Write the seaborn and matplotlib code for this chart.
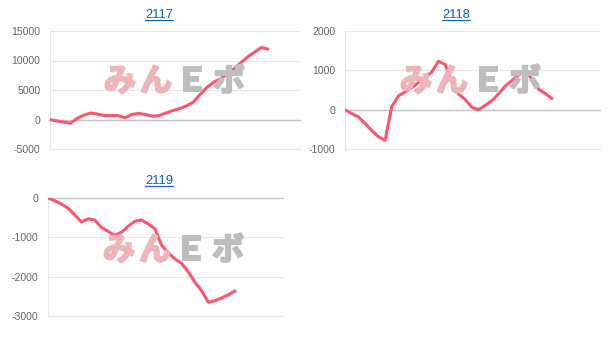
import numpy as np
import pandas as pd
import matplotlib
matplotlib.use("Agg")
import matplotlib.pyplot as plt
from matplotlib.lines import Line2D
import matplotlib.patheffects as pe
import seaborn as sns

# ---- data ----
titles = ["2117", "2118", "2119"]
s2117 = [0, -230, -460, -620, 200, 750, 1100, 900, 680, 700, 650, 300, 850, 1050,
         850, 550, 650, 1100, 1500, 1850, 2300, 2900, 4200, 5400, 6300, 6900, 7700,
         8600, 9600, 10600, 11400, 12200, 11950]
s2118 = [0, -100, -180, -350, -530, -690, -780, 80, 350, 450, 560, 690, 820, 960,
         1230, 1150, 700, 400, 260, 60, 0, 110, 230, 400, 600, 740, 880, 980, 780,
         520, 410, 280]
s2119 = [0, -70, -150, -260, -430, -610, -530, -560, -750, -850, -950, -870, -720,
         -590, -560, -660, -780, -1200, -1390, -1550, -1660, -1880, -2140, -2360,
         -2650, -2610, -2540, -2460, -2360]
yticks = [[-5000, 0, 5000, 10000, 15000], [-1000, 0, 1000, 2000], [-3000, -2000, -1000, 0]]
watermark_chars = ["み", "ん", "Ｅ", "ボ"]

sns.set_style("white")
plt.rcParams["font.family"] = ["Liberation Sans", "DejaVu Sans"]

W, H = 608, 337
fig = plt.figure(figsize=(W / 100, H / 100), dpi=100)

def px_axes(x0, x1, ytop, ybot):
    return fig.add_axes([x0 / W, 1 - ybot / H, (x1 - x0) / W, (ybot - ytop) / H])

panels = [
    dict(s=s2117, box=(50, 300, 31, 149), frac=218 / 250, title_xy=(159, 15), wm=(175, 81)),
    dict(s=s2118, box=(345, 600, 31, 149), frac=207 / 255, title_xy=(456, 15), wm=(471, 81)),
    dict(s=s2119, box=(48, 283, 198, 316), frac=187 / 235, title_xy=(159, 181), wm=(174, 250)),
]

line_color = "#ff5470"
grid_color = "#e6e6e6"
zero_color = "#c4c4c4"
pink = "#eeb5b8"
gray = "#bebebe"
wm_colors = [pink, pink, gray, gray]
wm_offsets = [-55, -19, 17, 54]
wm_family = ["Noto Sans CJK JP", "DejaVu Sans"]
title_texts = []
for p, title, yt in zip(panels, titles, yticks):
    ax = px_axes(*p["box"])
    df = pd.DataFrame({"x": np.arange(len(p["s"])), "y": p["s"]})
    n = len(p["s"]) - 1
    ax.set_xlim(0, n / p["frac"])
    ax.set_ylim(min(yt), max(yt))
    ax.set_yticks(yt)
    ax.set_yticklabels([str(v) for v in yt])
    ax.set_xticks([])
    ax.grid(axis="y", color=grid_color, linewidth=0.8)
    ax.set_axisbelow(True)
    for side in ["top", "right"]:
        ax.spines[side].set_visible(False)
    for side in ["left", "bottom"]:
        ax.spines[side].set_color(grid_color)
        ax.spines[side].set_linewidth(0.8)
    ax.tick_params(axis="y", length=3, width=0.8, color=grid_color, pad=4,
                   labelsize=7.6, labelcolor="#666666")
    ax.axhline(0, color=zero_color, linewidth=1.0, clip_on=False, zorder=1)
    # watermark
    cx, cy = p["wm"]
    for ch, col, off in zip(watermark_chars, wm_colors, wm_offsets):
        fig.text((cx + off) / W, 1 - (cy + 1) / H, ch, ha="center", va="center",
                 fontsize=23, fontweight="bold", color=col, family=wm_family, zorder=0.5,
                 path_effects=[pe.withStroke(linewidth=1.5, foreground=col)])
    ax.patch.set_alpha(0)
    sns.lineplot(data=df, x="x", y="y", ax=ax, color=line_color, linewidth=2.2, zorder=3)
    ax.set_xlabel("")
    ax.set_ylabel("")
    tx, ty = p["title_xy"]
    t = fig.text(tx / W, 1 - ty / H, title, ha="center", va="center",
                 fontsize=9.3, color="#0563c1")
    title_texts.append(t)

fig.canvas.draw()
r = fig.canvas.get_renderer()
for t in title_texts:
    bb = t.get_window_extent(r)
    y = (bb.y0 + 1.5) / H
    fig.add_artist(Line2D([bb.x0 / W, bb.x1 / W], [y, y], transform=fig.transFigure,
                          color="#0563c1", linewidth=0.8))

fig.savefig("out.png", dpi=100)
